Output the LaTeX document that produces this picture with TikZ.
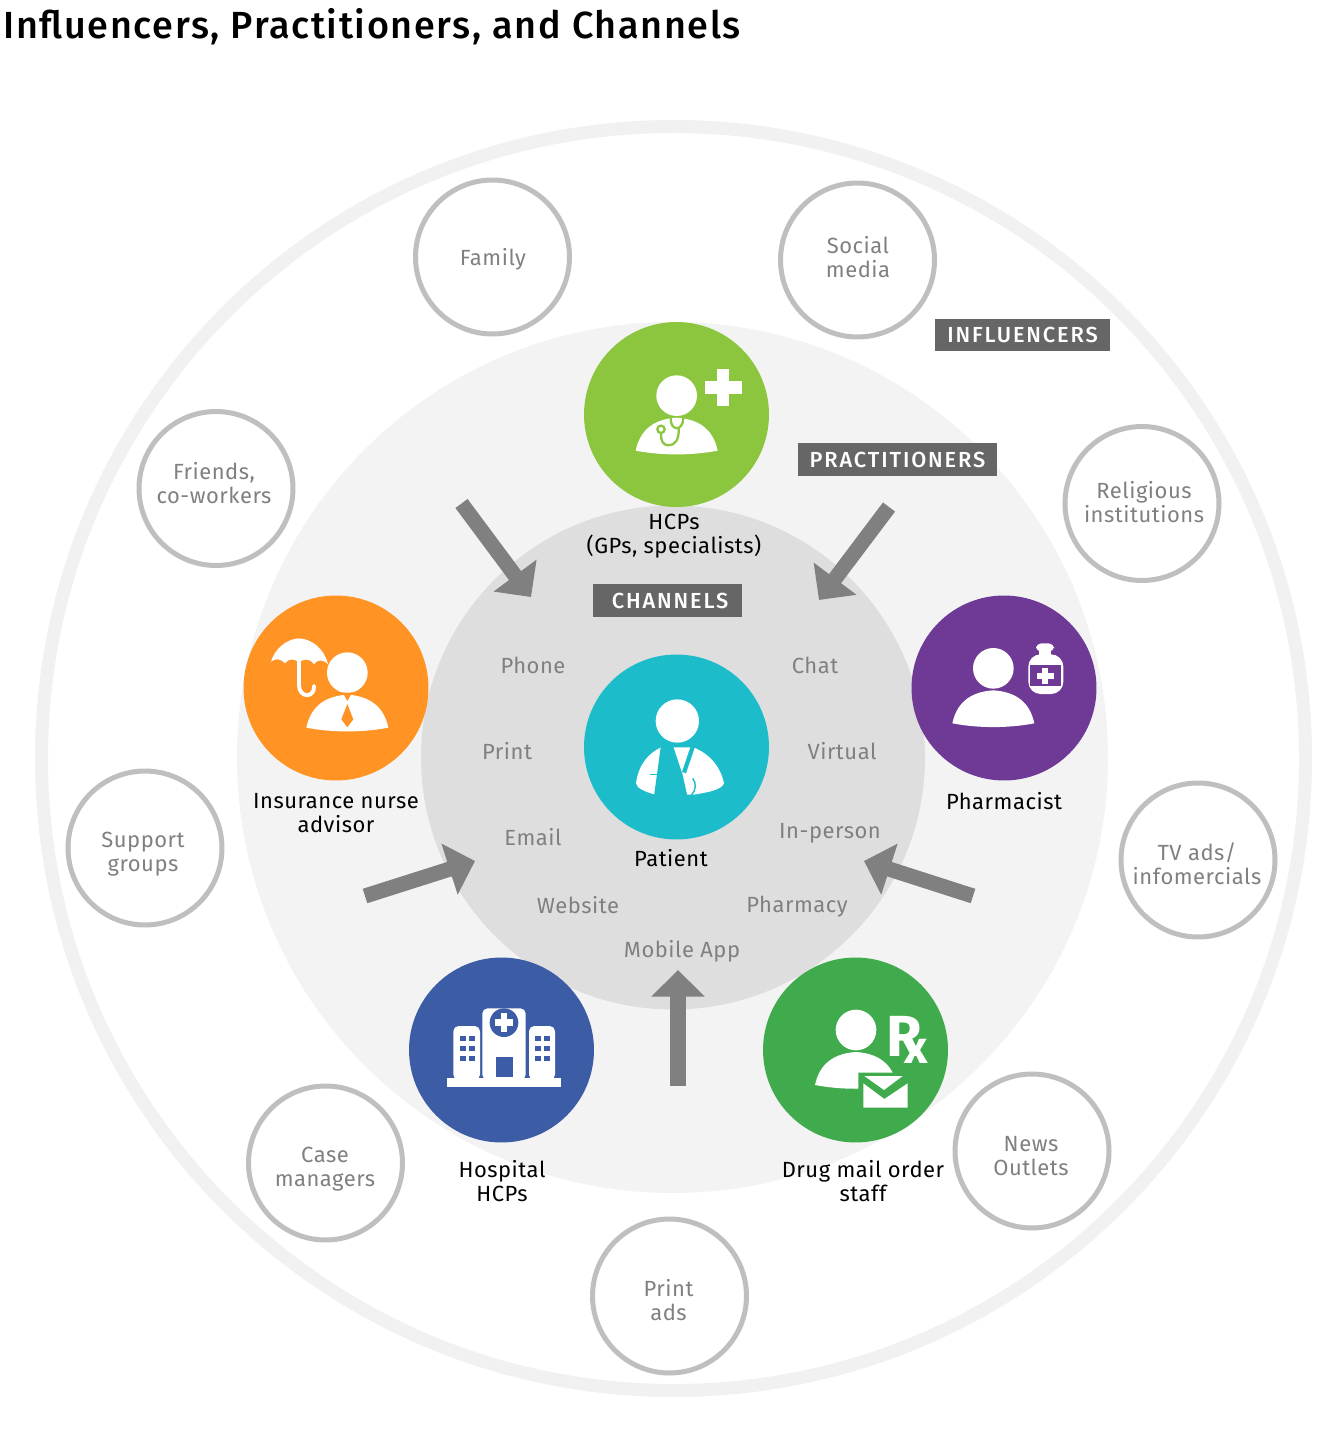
\documentclass[tikz,border=0pt]{standalone}
\usepackage{fontspec}
\setmainfont{Fira Sans}[LetterSpace=2.4]
\newfontfamily\headfont{Fira Sans Medium}[LetterSpace=4.3]
\newfontfamily\tagfont{Fira Sans Medium}[LetterSpace=8.5]
\newfontfamily\rxfont{Fira Sans Bold}
\usetikzlibrary{arrows.meta}
\definecolor{ringgray}{HTML}{F1F1F1}
\definecolor{midgray}{HTML}{F3F3F3}
\definecolor{innergray}{HTML}{DEDEDE}
\definecolor{edgegray}{HTML}{BFBFBF}
\definecolor{taggray}{HTML}{666666}
\definecolor{arrowgray}{HTML}{808080}
\definecolor{textgray}{HTML}{808080}
\definecolor{hcpgreen}{HTML}{8CC63F}
\definecolor{insorange}{HTML}{FF9425}
\definecolor{patteal}{HTML}{1CBCCB}
\definecolor{pharmpurple}{HTML}{6F3996}
\definecolor{hospblue}{HTML}{3C5DA6}
\definecolor{druggreen}{HTML}{3FAB4D}
\tikzset{
  influencer/.style={circle,draw=edgegray,fill=white,line width=2.85pt,minimum size=3.08cm,inner sep=0pt},
  influencertext/.style={align=center,text=textgray,font=\fontsize{12.5}{13.7}\selectfont},
  practitioner/.style={circle,minimum size=3.7cm,inner sep=0pt},
  blacklabel/.style={align=center,text=black,font=\fontsize{12.5}{13.7}\selectfont},
  channeltext/.style={text=textgray,font=\fontsize{12.5}{13.7}\selectfont},
  tagbox/.style={fill=taggray,text=white,inner sep=0pt,minimum height=0.65cm,font=\tagfont\fontsize{12.4}{13.7}\selectfont},
  blockarrow/.style={arrowgray,line width=8.6pt,-{Triangle[length=15.2pt,width=29.6pt]}},
  zoomed/.style={x=0.006667cm,y=-0.006667cm},
  pics/person/.style={code={
    \fill[white] (0,0) circle (61);
    \fill[white] (-123,165) .. controls (-108,95) and (-60,70) .. (0,66)
      .. controls (60,70) and (108,95) .. (123,165)
      .. controls (45,180) and (-45,180) .. cycle;
  }}
}
\begin{document}
\begin{tikzpicture}[x=0.02cm,y=-0.02cm]
  \useasboundingbox (0,0) rectangle (1337,1439);
  \fill[white] (0,0) rectangle (1337,1439);
  % rings
  \draw[ringgray,line width=7.4pt] (673.5,758.5) circle (632);
  \fill[midgray] (672.5,757.5) circle (435.5);
  \fill[innergray] (673,757.5) circle (252);
  % title
  \node[anchor=west,inner sep=0pt,font=\headfont\fontsize{21.5}{24}\selectfont] (title) at (3,27)
    {Influencers, Practitioners, and Channels};
  % influencers
  \foreach \nm/\cx/\cy/\tx/\ty/\lbl in {
    family/492.5/257/493/259/{Family},
    social/857.5/260/858/257/{Social\\media},
    religious/1142/503.5/1144/502/{Religious\\institutions},
    tvads/1198/860/1197/864/{TV ads/\\infomercials},
    news/1032/1151/1031/1156/{News\\Outlets},
    printads/669.5/1296/668.5/1300/{Print\\ads},
    case/325.5/1163/325/1169/{Case\\managers},
    support/145/848/143/854/{Support\\groups},
    friends/216/488.5/214/483.5/{Friends,\\co-workers}} {
    \node[influencer] (\nm) at (\cx,\cy) {};
    \node[influencertext] (\nm text) at (\tx,\ty) {\lbl};
  }
  % practitioners
  \node[practitioner,fill=hcpgreen] (hcp) at (676.5,414.5) {};
  \node[practitioner,fill=patteal] (patient) at (676.5,747) {};
  \node[practitioner,fill=insorange] (insurance) at (336,688) {};
  \node[practitioner,fill=pharmpurple] (pharmacist) at (1004,688) {};
  \node[practitioner,fill=hospblue] (hospital) at (501.5,1050) {};
  \node[practitioner,fill=druggreen] (drug) at (855.5,1050) {};
  % hcp icon
  \begin{scope}[shift={(580,320)},zoomed]
    \pic at (290,227) {person};
    \fill[white] (412,148) rectangle (448,258);
    \fill[white] (376,184) rectangle (485,222);
    \draw[hcpgreen,line width=1.3pt] (272,293) .. controls (270,335) and (310,335) .. (310,293);
    \draw[hcpgreen,line width=1.3pt] (296,324) .. controls (298,360) and (285,376) .. (265,376)
      .. controls (248,376) and (242,360) .. (243,340);
    \draw[hcpgreen,line width=1.3pt] (243,328) circle (11);
  \end{scope}
  % insurance icon
  \begin{scope}[shift={(240,590)},zoomed]
    \pic at (322,248) {person};
    \fill[insorange] (308,308) -- (336,308) -- (322,333) -- cycle;
    \fill[insorange] (322,342) -- (304,388) -- (322,412) -- (340,388) -- cycle;
    \fill[white] (93,215) .. controls (105,175) and (140,147) .. (177,145)
      .. controls (215,147) and (252,175) .. (264,222)
      .. controls (250,208) and (232,208) .. (222,222)
      .. controls (210,205) and (190,205) .. (177,218)
      .. controls (165,205) and (145,205) .. (135,220)
      .. controls (122,205) and (105,205) .. cycle;
    \draw[white,line width=2.2pt,line cap=round] (177,215) -- (177,285)
      .. controls (177,325) and (225,325) .. (222,288);
  \end{scope}
  % patient icon
  \begin{scope}[shift={(580,650)},zoomed]
    \fill[white] (292,213) circle (65);
    \fill[white] (168,400) .. controls (175,345) and (205,310) .. (243,292) -- (340,292)
      .. controls (385,310) and (420,345) .. (432,400)
      .. controls (425,420) and (380,428) .. (340,434) -- (225,434)
      .. controls (195,425) and (170,415) .. cycle;
    \fill[patteal] (243,285) -- (278,285) -- (308,375) -- (322,438) -- (222,438) -- cycle;
    \draw[patteal,line width=2.4pt] (340,285) -- (312,368);
    \draw[patteal,line width=0.8pt] (210,373) -- (236,373);
    \draw[patteal,line width=0.8pt] (338,385) .. controls (350,400) and (348,420) .. (334,436);
  \end{scope}
  % pharmacist icon
  \begin{scope}[shift={(905,590)},zoomed]
    \pic at (265,235) {person};
    \fill[white,rounded corners=3pt] (393,160) rectangle (447,185);
    \fill[white] (402,180) rectangle (438,200);
    \fill[white,rounded corners=7pt] (370,193) rectangle (475,312);
    \fill[pharmpurple] (376,226) rectangle (468,287);
    \fill[white] (412,234) rectangle (430,282);
    \fill[white] (397,249) rectangle (446,267);
  \end{scope}
  % hospital icon
  \begin{scope}[shift={(405,950)},zoomed]
    \fill[white] (125,384) rectangle (468,410);
    \fill[white,rounded corners=3pt] (232,175) rectangle (362,390);
    \fill[white,rounded corners=3pt] (145,228) rectangle (225,390);
    \fill[white,rounded corners=3pt] (372,228) rectangle (450,390);
    \fill[hospblue] (297,218) circle (43);
    \fill[white] (287,190) rectangle (307,246);
    \fill[white] (269,208) rectangle (325,228);
    \fill[hospblue] (273,320) rectangle (323,382);
    \foreach \wx in {165,192,390,417} {
      \foreach \wy in {258,287,317} {
        \fill[hospblue] (\wx,\wy) rectangle ++(17,16);
      }
    }
  \end{scope}
  % drug order icon
  \begin{scope}[shift={(760,950)},zoomed]
    \pic at (288,240) {person};
    \fill[druggreen] (295,368) -- (440,368) -- (460,395) -- (460,490) -- (295,490) -- cycle;
    \fill[white] (310,400) -- (373,447) -- (443,400) -- (443,473) -- (310,473) -- cycle;
    \fill[white] (313,378) -- (428,378) -- (372,420) -- cycle;
    \node[inner sep=0pt,text=white,font=\rxfont\fontsize{33}{33}\selectfont] (rxsign) at (441,270)
      {R\kern-10pt\raisebox{-3.8pt}{\fontsize{26}{26}\selectfont x}};
  \end{scope}
  % tags
  \node[tagbox,minimum width=3.5cm] (influencers) at (1022.5,335) {INFLUENCERS};
  \node[tagbox,minimum width=3.98cm] (practitioners) at (897.5,459.5) {PRACTITIONERS};
  \node[tagbox,minimum width=2.98cm] (channels) at (667.5,600.5) {\hspace*{3pt}CHANNELS};
  % labels
  \node[blacklabel] (hcplabel) at (674,536) {HCPs\\(GPs, specialists)};
  \node[blacklabel] (patientlabel) at (671,858) {Patient};
  \node[blacklabel] (insurancelabel) at (336,813) {Insurance nurse\\advisor};
  \node[blacklabel] (pharmacistlabel) at (1004,801) {Pharmacist};
  \node[blacklabel] (hospitallabel) at (502,1181) {Hospital\\HCPs};
  \node[blacklabel] (druglabel) at (863,1181) {Drug mail order\\staff};
  % channels
  \node[channeltext] (phone) at (533,665) {Phone};
  \node[channeltext] (chat) at (815,665) {Chat};
  \node[channeltext] (print) at (507,751) {Print};
  \node[channeltext] (virtual) at (842,751) {Virtual};
  \node[channeltext] (email) at (533,837) {Email};
  \node[channeltext] (inperson) at (830,833) {In-person};
  \node[channeltext] (website) at (578,905) {Website};
  \node[channeltext] (pharmacy) at (797,907) {Pharmacy};
  \node[channeltext] (mobile) at (682,951) {Mobile App};
  % arrows
  \coordinate (tailnw) at (461.5,503.5);
  \coordinate (headnw) at (531,597);
  \coordinate (tailne) at (889,507);
  \coordinate (headne) at (819,600);
  \coordinate (tailw) at (365,896);
  \coordinate (headw) at (475,861);
  \coordinate (taile) at (973,896);
  \coordinate (heade) at (864,861);
  \coordinate (tails) at (678,1086);
  \coordinate (heads) at (678,970);
  \foreach \aa/\bb in {tailnw/headnw,tailne/headne,tailw/headw,taile/heade,tails/heads} {
    \draw[blockarrow] (\aa) -- (\bb);
  }
\end{tikzpicture}
\end{document}
